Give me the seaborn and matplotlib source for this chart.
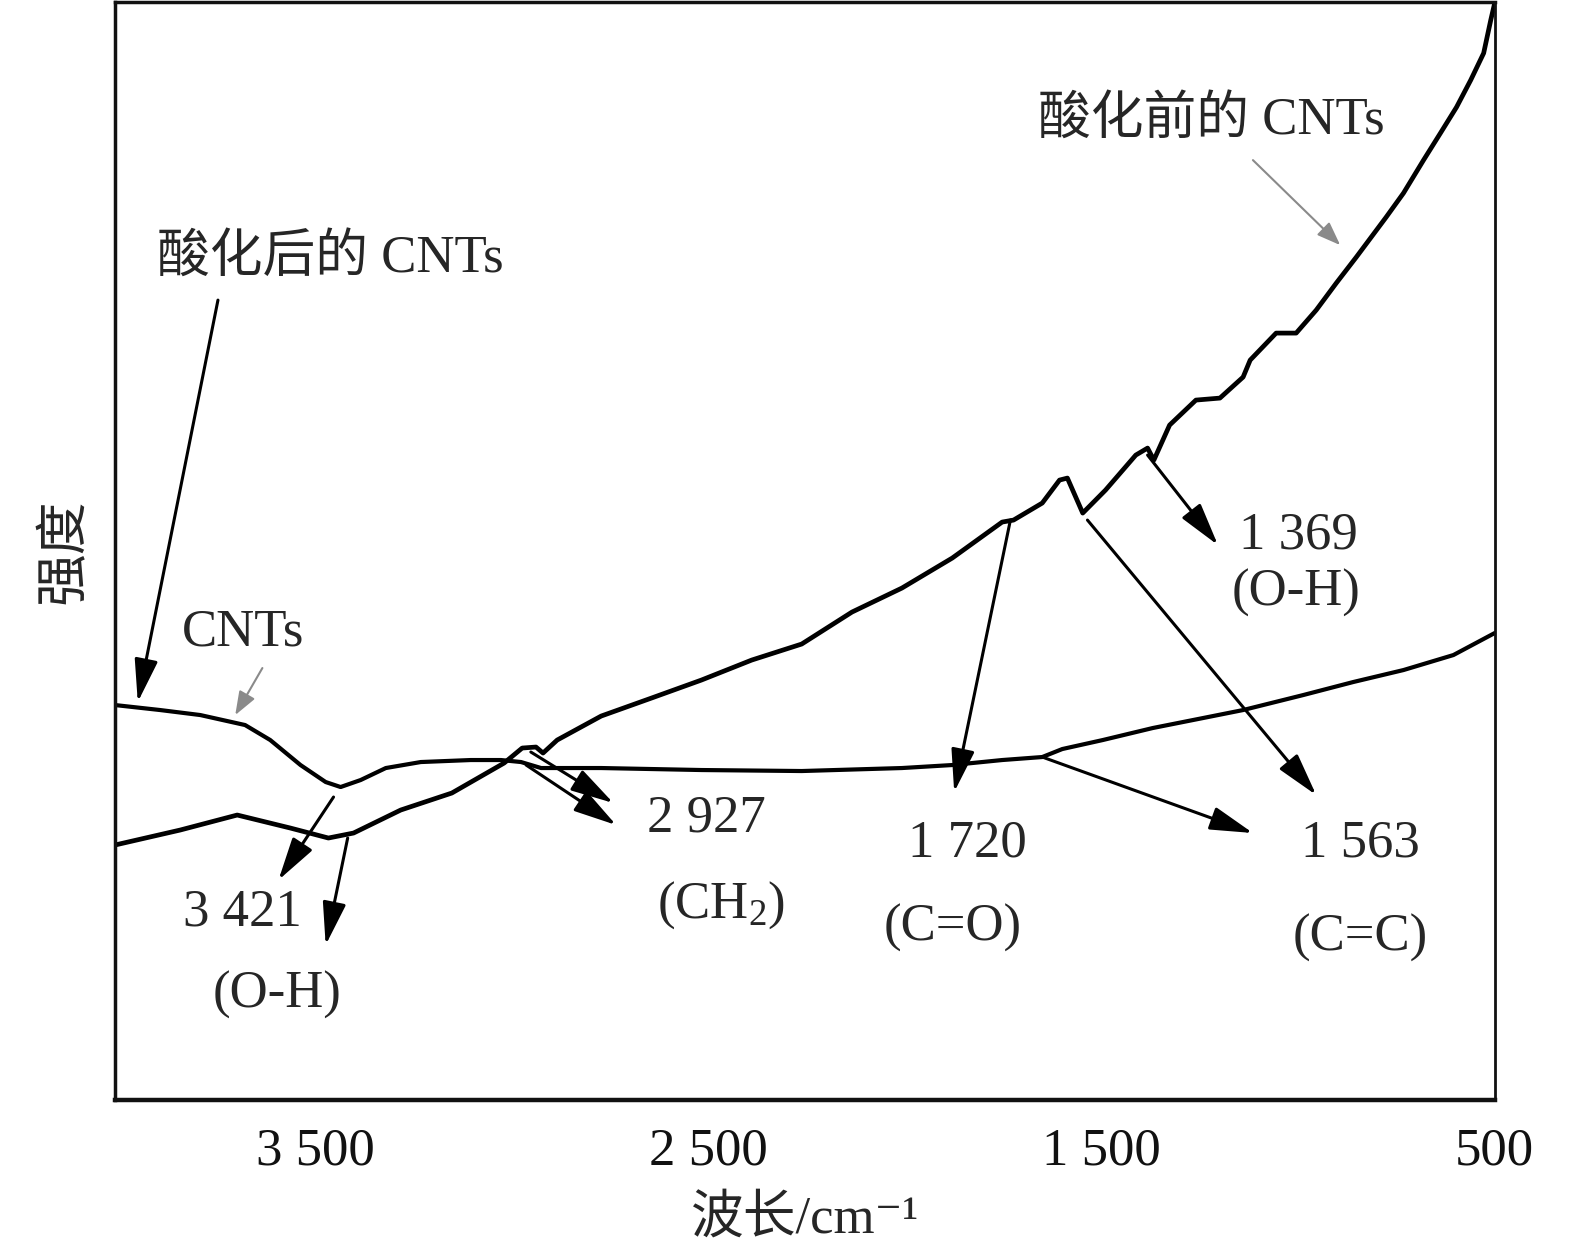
#!/usr/bin/env python3
# FTIR spectra of CNTs before and after acid treatment, redrawn with seaborn.
import matplotlib
matplotlib.use("Agg")
import matplotlib.pyplot as plt
import pandas as pd
import seaborn as sns

# wavenumber [cm-1] and intensity [a.u.]
WN_AFTER = [4010, 3895, 3793, 3679, 3615, 3538, 3474, 3436, 3385, 3321,
            3232, 3105, 3028, 2977, 2926, 2773, 2518, 2263, 2008, 1880,
            1753, 1651, 1600, 1497, 1370, 1242, 1140, 987, 860, 732,
            605, 500]
I_AFTER = [395, 390, 385, 375, 360, 335, 318, 313, 320, 332,
           338, 340, 340, 338, 332, 332, 330, 329, 332, 335,
           340, 343, 351, 360, 372, 382, 390, 405, 418, 430,
           445, 467]

WN_BEFORE = [4010, 3844, 3699, 3564, 3467, 3403, 3283, 3153, 3020, 2974,
             2939, 2921, 2885, 2773, 2645, 2518, 2390, 2263, 2135, 2008,
             1880, 1753, 1724, 1651, 1607, 1587, 1548, 1490, 1413, 1383,
             1367, 1327, 1260, 1199, 1140, 1122, 1056, 1005, 954, 903,
             852, 776, 732, 681, 638, 597, 561, 528, 510, 500]
I_BEFORE = [255, 270, 285, 272, 262, 267, 290, 307, 337, 352,
            353, 347, 360, 384, 402, 420, 440, 456, 488, 512,
            542, 578, 580, 597, 620, 622, 587, 610, 645, 652,
            640, 675, 700, 702, 723, 740, 767, 767, 790, 817,
            843, 883, 907, 940, 967, 993, 1020, 1047, 1080, 1097]

X_TICKS = [3500, 2500, 1500, 500]
X_TICK_LABELS = ["3 500", "2 500", "1 500", "500"]

# peak annotations: (text, text position) and (arrow tail, arrow head)
PEAK_TEXT = [
    ("3 421", (3686, 188)), ("(O-H)", (3597, 105)),
    ("2 927", (2505, 282)), ("(CH$_2$)", (2467, 195)),
    ("1 720", (1842, 257)), ("(C=O)", (1880, 172)),
    ("1 563", (842, 257)), ("(C=C)", (842, 162)),
    ("1 369", (1000, 565)), ("(O-H)", (1005, 507)),
]
PEAK_ARROWS = [
    ((3454, 303), (3594, 220)),
    ((3418, 262), (3474, 155)),
    ((2952, 348), (2742, 297)),
    ((2964, 335), (2735, 275)),
    ((1732, 580), (1875, 308)),
    ((1536, 580), (954, 305)),
    ((1651, 343), (1115, 267)),
    ((1383, 645), (1204, 555)),
]

sns.set_style("white")
plt.rcParams["font.family"] = ["Liberation Serif", "Noto Sans CJK SC", "DejaVu Sans"]
plt.rcParams["mathtext.fontset"] = "custom"
plt.rcParams["mathtext.rm"] = "Liberation Serif"
plt.rcParams["mathtext.default"] = "regular"
FS = 38

df_after = pd.DataFrame({"wn": WN_AFTER, "I": I_AFTER})
df_before = pd.DataFrame({"wn": WN_BEFORE, "I": I_BEFORE})

fig = plt.figure(figsize=(15.75, 12.59), dpi=100)
ax = fig.add_axes([0.073, 0.1263, 0.876, 0.872])

sns.lineplot(data=df_after, x="wn", y="I", ax=ax, color="black", lw=3.0)
sns.lineplot(data=df_before, x="wn", y="I", ax=ax, color="black", lw=3.4)

ax.set_xlim(4010, 500)
ax.set_ylim(0, 1098)
ax.set_xticks(X_TICKS)
ax.set_xticklabels(X_TICK_LABELS)
ax.set_yticks([])
ax.tick_params(axis="x", direction="in", length=10, width=1.5,
               labelsize=FS, pad=20, colors="#111111")
for side, w in (("left", 2.5), ("bottom", 3.2), ("top", 2.5), ("right", 2.0)):
    ax.spines[side].set_linewidth(w)
    ax.spines[side].set_color("#111111")

ax.set_xlabel("波长/cm⁻¹", fontsize=FS, labelpad=14)
ax.set_ylabel("强度", fontsize=FS, labelpad=18)

black_arrow = dict(arrowstyle="-|>,head_length=1.1,head_width=0.3",
                   mutation_scale=24, lw=2.2, color="black",
                   shrinkA=0, shrinkB=0)
grey_arrow = dict(arrowstyle="-|>,head_length=0.8,head_width=0.3",
                  mutation_scale=18, lw=1.5, color="#8a8a8a",
                  shrinkA=0, shrinkB=0)

# curve labels
ax.text(3462, 842, "酸化后的 CNTs", fontsize=FS, ha="center", va="center")
ax.annotate("", xy=(3952, 398), xytext=(3748, 800), arrowprops=black_arrow)
ax.text(1222, 980, "酸化前的 CNTs", fontsize=FS, ha="center", va="center")
ax.annotate("", xy=(893, 855), xytext=(1115, 940), arrowprops=grey_arrow)
ax.text(3684, 468, "CNTs", fontsize=FS, ha="center", va="center")
ax.annotate("", xy=(3704, 385), xytext=(3635, 432), arrowprops=grey_arrow)

for txt, (x, y) in PEAK_TEXT:
    ax.text(x, y, txt, fontsize=FS, ha="center", va="center")
for tail, head in PEAK_ARROWS:
    ax.annotate("", xy=head, xytext=tail, arrowprops=black_arrow)

fig.savefig("out.png", dpi=100)
